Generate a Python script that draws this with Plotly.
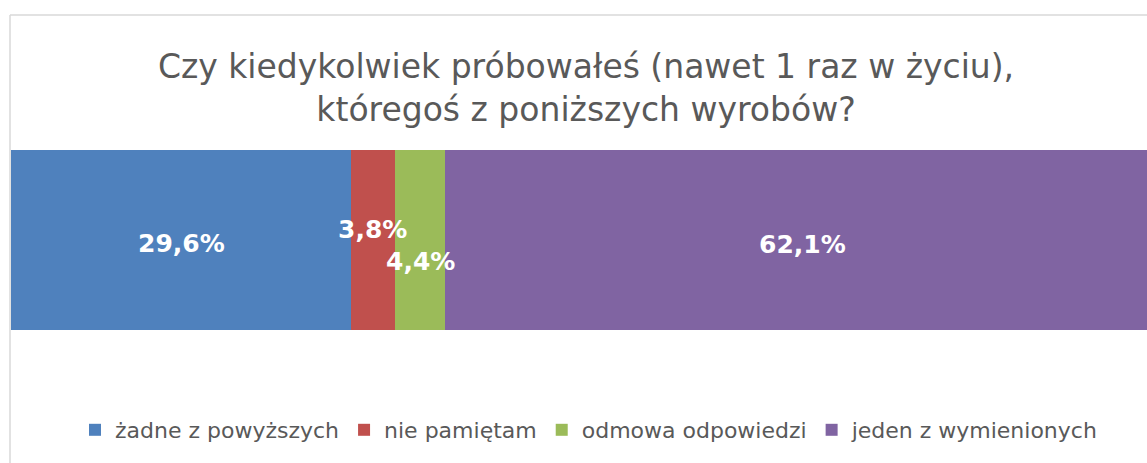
import plotly.graph_objects as go

categories = ["żadne z powyższych", "nie pamiętam", "odmowa odpowiedzi", "jeden z wymienionych"]
values = [29.6, 3.8, 4.4, 62.1]
labels = ["29,6%", "3,8%", "4,4%", "62,1%"]
colors = ["#4F81BD", "#C0504D", "#9BBB59", "#8064A2"]
label_shift = [-3, 11, -21, -4]

W, H = 1147, 463
L, T, PH = 11, 150, 180
FONT = "DejaVu Sans"

fig = go.Figure()
for c, v, col in zip(categories, values, colors):
    fig.add_trace(go.Bar(x=[v], y=["q"], orientation="h", name=c,
                         marker=dict(color=col, line=dict(width=0)),
                         hoverinfo="skip"))

total = sum(values)
cum = 0
for v, lab, s in zip(values, labels, label_shift):
    fig.add_annotation(x=cum + v / 2, y="q", text=f"<b>{lab}</b>", showarrow=False,
                       yshift=s, font=dict(family=FONT, size=25, color="white"))
    cum += v

plot_w = W - L
xmax = plot_w * total / (1159 - 11)

fig.update_layout(
    width=W, height=H,
    margin=dict(l=L, r=0, t=T, b=H - T - PH, pad=0),
    barmode="stack", bargap=0,
    plot_bgcolor="white", paper_bgcolor="white",
    xaxis=dict(range=[0, xmax], visible=False, fixedrange=True),
    yaxis=dict(visible=False, fixedrange=True),
    title=dict(text="Czy kiedykolwiek próbowałeś (nawet 1 raz w życiu),<br>któregoś z poniższych wyrobów?",
               x=586 / W, xanchor="center", xref="container",
               y=1 - 78 / H, yanchor="middle", yref="container",
               font=dict(family=FONT, size=33, color="#595959")),
    legend=dict(orientation="h", x=(589 - L) / plot_w, xanchor="center",
                y=-100 / PH, yanchor="middle",
                font=dict(family=FONT, size=22, color="#595959"),
                itemwidth=30, traceorder="normal", itemclick=False, itemdoubleclick=False),
    showlegend=True,
)

# chart border lines (light gray)
ytop = (PH + T - 15) / PH
xl = -1 / plot_w
fig.add_shape(type="line", xref="paper", yref="paper",
              x0=xl, x1=1.1, y0=ytop, y1=ytop,
              line=dict(color="#D9D9D9", width=1.5))
fig.add_shape(type="line", xref="paper", yref="paper",
              x0=xl, x1=xl, y0=ytop, y1=-2,
              line=dict(color="#D9D9D9", width=1.5))

fig.write_html("out.html", config={"displayModeBar": False},
               post_script="document.body.style.margin='0px';document.body.style.overflow='hidden';")
